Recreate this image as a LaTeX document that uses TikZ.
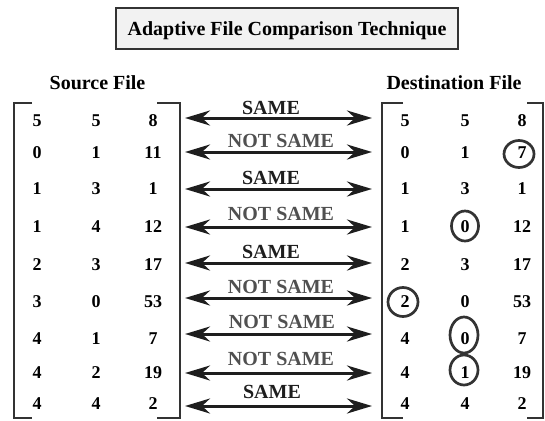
\documentclass[tikz,border=0pt]{standalone}
\usepackage{fontspec}
\setmainfont{Liberation Serif}
\usetikzlibrary{arrows.meta,shapes.geometric}
\definecolor{ink}{HTML}{1E1E1E}
\definecolor{brk}{HTML}{333333}
\definecolor{notsame}{HTML}{505050}
\definecolor{titlefill}{HTML}{F2F2F2}
\begin{document}
\begin{tikzpicture}[x=1pt,y=-1pt,
  num/.style={font=\fontsize{18}{20}\selectfont\bfseries, text=black, inner sep=0pt},
  hdr/.style={font=\fontsize{20}{24}\selectfont\bfseries, text=black, inner sep=0pt, anchor=base},
  samelbl/.style={font=\fontsize{20}{24}\selectfont\bfseries, text=ink, inner sep=0pt, anchor=base},
  notlbl/.style={samelbl, text=notsame},
  biarrow/.style={draw=ink, line width=3pt,
    {Stealth[length=25pt,width=15pt,inset=8pt]}-{Stealth[length=25pt,width=15pt,inset=8pt]}},
  bracket/.style={draw=brk, line width=2.8pt},
  thinbracket/.style={draw=brk, line width=1.5pt},
  ring/.style={draw=brk, line width=2.7pt, ellipse, inner sep=0pt}]
\useasboundingbox (0,0) rectangle (545,420);

% title
\node[draw=brk, line width=1.2pt, fill=titlefill, anchor=base,
      minimum width=342pt, minimum height=41pt, inner sep=0pt,
      text height=15pt, text depth=0pt,
      font=\fontsize{20}{24}\selectfont\bfseries] (title) at (287,36)
      {Adaptive File Comparison Technique};

% headers
\node[hdr] (srchdr) at (97.5,89) {Source File};
\node[hdr] (dsthdr) at (454,89) {Destination File};

% brackets
\draw[bracket] (32,103) -- (14,103) -- (14,418) -- (32,418);
\draw[bracket] (157,103) -- (180,103) -- (180,418) -- (157,418);
\draw[bracket] (403,103) -- (382,103) -- (382,418) -- (403,418);
\draw[thinbracket] (527,103) -- (543,103) -- (543,418) -- (527,418);

% rows
\foreach \i/\y/\ay/\by/\lx/\st/\txt/\a/\b/\c/\d/\e/\f in {
  1/121/118/114/271/samelbl/SAME/5/5/8/5/5/8,
  2/153/152/147/281/notlbl/NOT SAME/0/1/11/0/1/7,
  3/189/189/184/271/samelbl/SAME/1/3/1/1/3/1,
  4/227/227/220/281/notlbl/NOT SAME/1/4/12/1/0/12,
  5/265/263/258/271/samelbl/SAME/2/3/17/2/3/17,
  6/302/298/293/281/notlbl/NOT SAME/3/0/53/2/0/53,
  7/339/334/328/282/notlbl/NOT SAME/4/1/7/4/0/7,
  8/373/373/365/281/notlbl/NOT SAME/4/2/19/4/1/19,
  9/404/406/398/272/samelbl/SAME/4/4/2/4/4/2}{
  \node[num] (s\i a) at (37,\y) {\a};
  \node[num] (s\i b) at (96,\y) {\b};
  \node[num] (s\i c) at (153,\y) {\c};
  \node[num] (d\i a) at (405,\y) {\d};
  \node[num] (d\i b) at (465,\y) {\e};
  \node[num] (d\i c) at (522,\y) {\f};
  \coordinate (al\i) at (185,\ay);
  \coordinate (ar\i) at (372,\ay);
  \draw[biarrow] (al\i) -- (ar\i);
  \node[\st] (lab\i) at (\lx,\by) {\txt};
}

% circled differences
\node[ring, minimum width=30pt, minimum height=27pt] (ring1) at (519,154) {};
\node[ring, minimum width=27pt, minimum height=30pt] (ring2) at (465,226) {};
\node[ring, minimum width=30pt, minimum height=29pt] (ring3) at (403,302) {};
\node[ring, minimum width=28pt, minimum height=36pt] (ring4) at (464,335) {};
\node[ring, minimum width=28pt, minimum height=30pt] (ring5) at (464,370) {};
\end{tikzpicture}
\end{document}
